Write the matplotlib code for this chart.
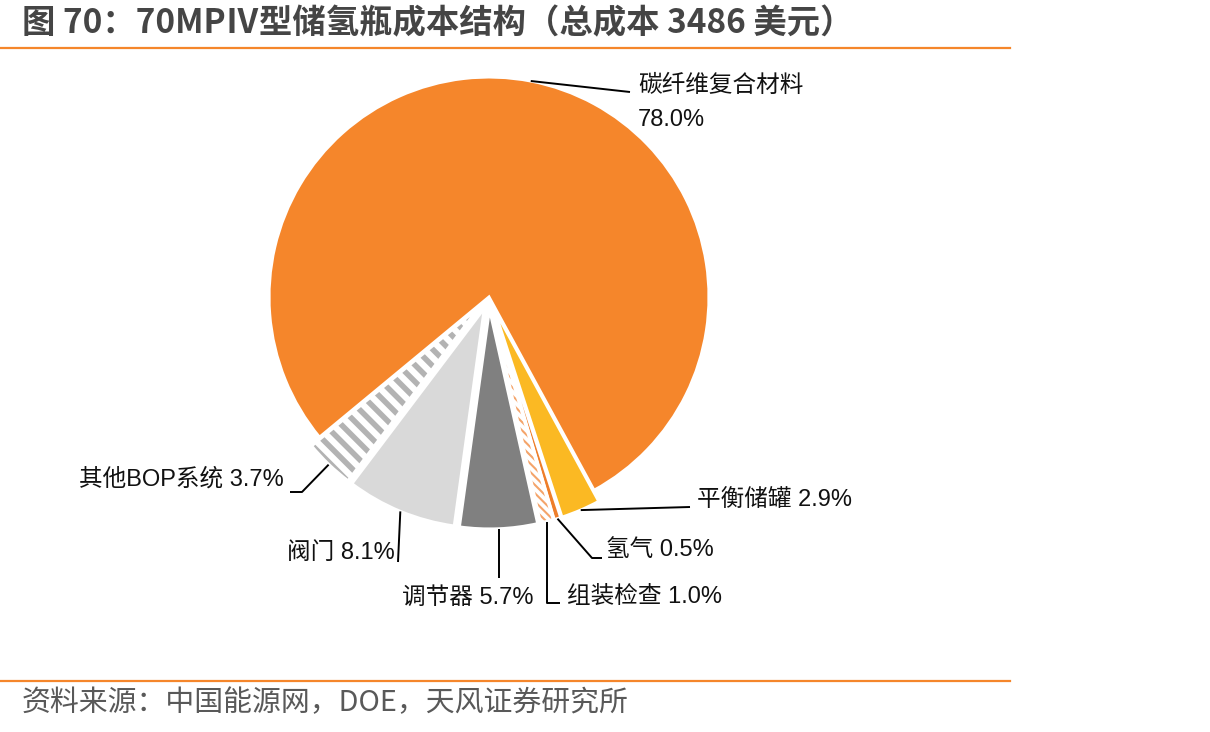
import matplotlib
matplotlib.use('Agg')
import matplotlib.pyplot as plt
from matplotlib.patches import Wedge
import numpy as np

# ---------------- data ----------------
categories = ['碳纤维复合材料', '平衡储罐', '氢气', '组装检查', '调节器', '阀门', '其他BOP系统']
values = [78.0, 2.9, 0.5, 1.0, 5.7, 8.1, 3.7]
pct_labels = ['78.0%', '2.9%', '0.5%', '1.0%', '5.7%', '8.1%', '3.7%']
title_text = '图 70：70MPⅣ型储氢瓶成本结构（总成本 3486 美元）'
source_text = '资料来源：中国能源网，DOE，天风证券研究所'

# ---------------- style ----------------
colors = ['#F5862B', '#FBB923', '#EE7E2A', '#FFFFFF', '#808080', '#D9D9D9', '#FFFFFF']
explode_px = [0, 12, 12, 12, 12, 12, 12]
hatches = {3: ('\\' * 4, '#F4A46A', 1.5), 6: ('\\' * 2, '#B3B3B3', 4.0)}
ORANGE = '#F5862B'
FONT = ['Liberation Sans', 'Noto Sans CJK SC']
CJK = ['Noto Sans CJK SC', 'DejaVu Sans']
plt.rcParams['font.family'] = FONT

W, H = 1210, 732
fig = plt.figure(figsize=(W / 100, H / 100), dpi=100)
ax = fig.add_axes([0, 0, 1, 1])


def Y(y):
    return H - y


cx, cy, R = 489, 297, 220
wedges, _ = ax.pie(values, colors=colors, startangle=219.6, counterclock=False,
                   center=(cx, Y(cy)), radius=R, explode=explode_px,
                   wedgeprops=dict(edgecolor='white', linewidth=2.2))
ax.set_xlim(0, W)
ax.set_ylim(0, H)
ax.axis('off')

# hatched slices
for i, (hp, hc, hlw) in hatches.items():
    w = wedges[i]
    plt.rcParams['hatch.linewidth'] = hlw
    hw = Wedge(w.center, w.r, w.theta1, w.theta2, facecolor='none',
               edgecolor=hc, linewidth=0, hatch=hp, zorder=w.get_zorder() + 0.1)
    try:
        hw.set_hatch_linewidth(hlw)
    except Exception:
        pass
    ax.add_patch(hw)
    ow = Wedge(w.center, w.r, w.theta1, w.theta2, facecolor='none',
               edgecolor='white', linewidth=2.6, zorder=w.get_zorder() + 0.2)
    ax.add_patch(ow)


def anchor(i):
    w = wedges[i]
    a = np.deg2rad((w.theta1 + w.theta2) / 2)
    return (w.center[0] + w.r * np.cos(a), w.center[1] + w.r * np.sin(a))


# leader line bends (pixel layout, y measured from top) and label placement
leaders = {
    0: [(630, 92)],
    1: [(690, 507)],
    2: [(592, 558), (602, 558)],
    3: [(None, 603), (560, 603)],
    4: [(None, 578)],
    5: [(398, 562)],
    6: [(302, 492), (290, 492)],
}
label_pos = {
    1: (697, 501, 'left'),
    2: (606, 550, 'left'),
    3: (567, 597, 'left'),
    4: (468, 598, 'center'),
    5: (395, 553, 'right'),
    6: (284, 479, 'right'),
}
TXT = '#111111'
for i, pts in leaders.items():
    ax0, ay0 = anchor(i)
    xs = [ax0] + [ax0 if p[0] is None else p[0] for p in pts]
    ys = [ay0] + [Y(p[1]) for p in pts]
    ax.plot(xs, ys, color='black', lw=1.4, solid_capstyle='butt', zorder=5)

ax.text(638, Y(86), categories[0], ha='left', va='center', fontsize=17,
        color=TXT, family=FONT)
ax.text(638, Y(120), pct_labels[0], ha='left', va='center', fontsize=17,
        color=TXT, family=FONT)
for i, (x, y, ha) in label_pos.items():
    ax.text(x, Y(y), f'{categories[i]} {pct_labels[i]}', ha=ha, va='center',
            fontsize=17, color=TXT, family=FONT)

# title, rules and source
fig.text(22 / W, 1 - 24 / H, title_text, ha='left', va='center', fontsize=24,
         fontweight='bold', color='#454545', family=CJK)
fig.add_artist(plt.Line2D([0, 1010 / W], [1 - 48 / H] * 2, color=ORANGE, lw=1.6))
fig.add_artist(plt.Line2D([0, 1010 / W], [1 - 681 / H] * 2, color=ORANGE, lw=1.6))
fig.text(22 / W, 1 - 703 / H, source_text, ha='left', va='center', fontsize=20.8,
         color='#595959', family=CJK)

fig.savefig('out.png', dpi=100, facecolor='white')
